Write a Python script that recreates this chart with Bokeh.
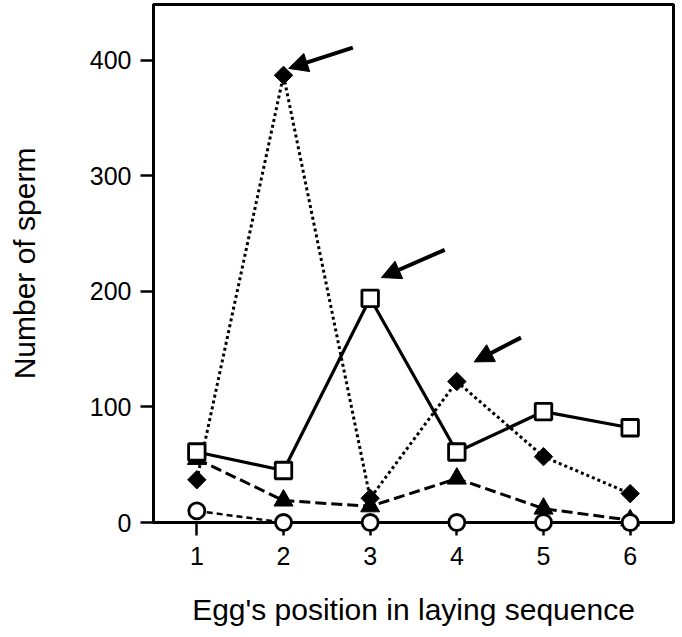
from bokeh.plotting import figure
from bokeh.models import Range1d, FixedTicker, Arrow, NormalHead, ColumnDataSource
from bokeh.embed import file_html
from bokeh.resources import INLINE
import numpy as np

# ---- data ----
positions = [1, 2, 3, 4, 5, 6]
squares_sperm = [61, 45, 194, 61, 96, 82]
diamonds_sperm = [37, 387, 21, 122, 57, 25]
triangles_sperm = [55, 19, 14, 38, 12, 2]
circles_sperm = [10, 0, 0, 0, 0, 0]
x_ticks = [1, 2, 3, 4, 5, 6]
y_ticks = [0, 100, 200, 300, 400]

arrow_x_start = [2.80, 3.86, 4.74]
arrow_y_start = [411, 236, 160]
arrow_x_end = [2.06, 3.13, 4.20]
arrow_y_end = [393, 212, 139]

FONT = "Liberation Sans"

p = figure(width=675, height=637, output_backend="svg", toolbar_location=None,
           x_range=Range1d(0.5, 6.5), y_range=Range1d(0, 448.3),
           min_border_left=153, min_border_right=2, min_border_top=4,
           min_border_bottom=115)

p.xgrid.visible = False
p.ygrid.visible = False
p.outline_line_color = "black"
p.outline_line_width = 3
p.background_fill_color = "white"

for ax in (p.xaxis[0], p.yaxis[0]):
    ax.axis_line_width = 3
    ax.axis_line_color = "black"
    ax.major_tick_in = 0
    ax.major_tick_out = 13
    ax.major_tick_line_width = 2.5
    ax.major_tick_line_color = "black"
    ax.minor_tick_line_color = None
    ax.major_label_text_font = FONT
    ax.major_label_text_font_size = "25px"
    ax.major_label_text_color = "black"
    ax.axis_label_text_font = FONT
    ax.axis_label_text_font_size = "30px"
    ax.axis_label_text_font_style = "normal"
    ax.axis_label_text_color = "black"

p.xaxis.ticker = FixedTicker(ticks=x_ticks)
p.yaxis.ticker = FixedTicker(ticks=y_ticks)
p.xaxis.major_label_standoff = 11
p.yaxis.major_label_standoff = 9
p.xaxis.axis_label = "Egg's position in laying sequence"
p.yaxis.axis_label = "Number of sperm"
p.xaxis.axis_label_standoff = 25
p.yaxis.axis_label_standoff = 46

renderers = []
# lines
renderers.append(p.line(positions, diamonds_sperm, line_color="black", line_width=3,
                        line_dash="3 3"))
renderers.append(p.line(positions, triangles_sperm, line_color="black", line_width=3,
                        line_dash="11 5"))
renderers.append(p.line(positions, circles_sperm, line_color="black", line_width=2.5,
                        line_dash="6 4"))
renderers.append(p.line(positions, squares_sperm, line_color="black", line_width=3.2))

# markers
renderers.append(p.scatter(positions, triangles_sperm, marker="triangle", size=19,
                           fill_color="black", line_color="black", line_width=1))
renderers.append(p.scatter(positions, diamonds_sperm, marker="square", angle=np.pi / 4,
                           size=13, fill_color="black", line_color="black", line_width=1))
renderers.append(p.scatter(positions, squares_sperm, marker="square", size=16.5,
                           fill_color="white", line_color="black", line_width=2.8))
renderers.append(p.scatter(positions, circles_sperm, marker="circle", size=16,
                           fill_color="white", line_color="black", line_width=2.8))
for r in renderers:
    r.level = "overlay"

arrow_src = ColumnDataSource(dict(x0=arrow_x_start, y0=arrow_y_start,
                                  x1=arrow_x_end, y1=arrow_y_end))
p.add_layout(Arrow(end=NormalHead(size=19, fill_color="black", line_color="black",
                                  line_width=1),
                   x_start="x0", y_start="y0", x_end="x1", y_end="y1",
                   source=arrow_src, line_color="black", line_width=4))

open("out.html", "w").write(file_html(p, INLINE))
